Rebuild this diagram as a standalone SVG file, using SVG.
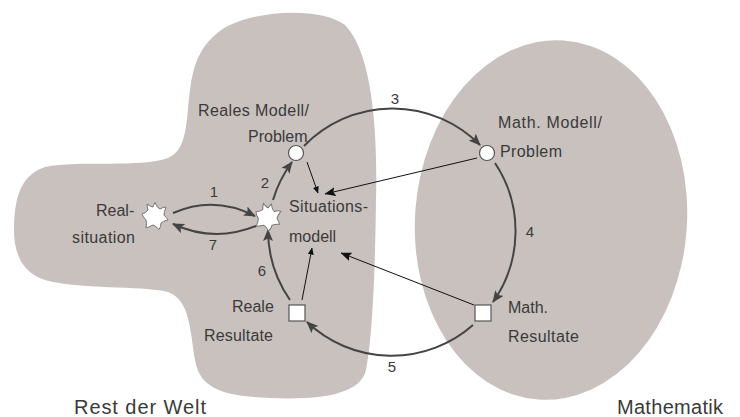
<svg xmlns="http://www.w3.org/2000/svg" width="740" height="417" viewBox="0 0 740 417">
<style>
.blob{fill:#c9c1be;stroke:none}
.lbl{font-family:"Liberation Sans",Arial,sans-serif;font-size:16px;fill:#3a3a3a}
.big{font-family:"Liberation Sans",Arial,sans-serif;font-size:20px;fill:#3a3a3a}
.num{font-family:"Liberation Sans",Arial,sans-serif;font-size:15px;fill:#3a3a3a;text-anchor:middle}
.thick{fill:none;stroke:#444;stroke-width:2;marker-end:url(#ah)}
.thin{fill:none;stroke:#111;stroke-width:1}
.star{fill:#fff;stroke:#777;stroke-width:1;stroke-linejoin:round}
.node{fill:#fff;stroke:#555;stroke-width:1.2}
</style>
<defs>
<marker id="ah" markerUnits="userSpaceOnUse" markerWidth="12" markerHeight="10" refX="11" refY="5" orient="auto">
<path d="M0,0 L12,5 L0,10 L2.5,5 z" fill="#444"/>
</marker>
<marker id="as" markerUnits="userSpaceOnUse" markerWidth="7" markerHeight="6" refX="6.5" refY="3" orient="auto">
<path d="M0,0 L7,3 L0,6 z" fill="#111"/>
</marker>
<marker id="am" markerUnits="userSpaceOnUse" markerWidth="11" markerHeight="9" refX="10.5" refY="4.5" orient="auto">
<path d="M0,0 L11,4.5 L0,9 L2,4.5 z" fill="#111"/>
</marker>
<path id="star" d="M0,-13.5 Q2,-8 5,-7 Q8,-9 11,-9 Q9,-4 9,-1 Q12,2 13,4 Q8,5 6,7 Q6,11 4,13.5 Q1,10 -2,9 Q-6,11 -9,12 Q-8,7 -9,4 Q-12,1 -13,-2 Q-9,-3 -7,-6 Q-8,-10 -8,-12 Q-4,-9 -2,-9 Q-1,-12 0,-13.5 Z"/>
</defs>

<g id="rest-der-welt">
<path class="blob" d="M215,35 C240,10 320,5 345,25 C370,50 378,120 376,200 C375,280 372,340 366,370 C360,395 320,400 270,398 C225,396 200,390 195,360 C190,330 190,300 168,292 C140,285 80,290 45,280 C20,272 14,250 14,230 C14,200 20,175 45,167 C80,160 140,168 168,158 C188,150 186,120 190,90 C193,65 200,48 215,35 Z"/>
<text class="big" x="74" y="414" textLength="132">Rest der Welt</text>
</g>

<g id="mathematik">
<ellipse class="blob" cx="551" cy="220" rx="136" ry="180" transform="rotate(4 551 220)"/>
<text class="big" x="617" y="414" textLength="106">Mathematik</text>
</g>

<g id="connectors">
<path class="thick" d="M173,213 Q214,195 255,216"/>
<path class="thick" d="M256,226 Q214,243 173,224"/>
<path class="thick" d="M273,200 A123,123 0 0 1 292,162"/>
<path class="thick" d="M304,146 A123,123 0 0 1 480,145"/>
<path class="thick" d="M495,163 A123,123 0 0 1 493,302"/>
<path class="thick" d="M473,325 A123,123 0 0 1 307,322"/>
<path class="thick" d="M290,300 A123,123 0 0 1 268,230"/>
<path class="thin" marker-end="url(#as)" d="M307,162 L318,193"/>
<path class="thin" marker-end="url(#am)" d="M477,158 L325,194"/>
<path class="thin" marker-end="url(#as)" d="M302,300 L312,248"/>
<path class="thin" marker-end="url(#am)" d="M474,305 L341,253"/>
<text class="num" x="214" y="197">1</text>
<text class="num" x="265" y="188">2</text>
<text class="num" x="395" y="104">3</text>
<text class="num" x="530" y="237">4</text>
<text class="num" x="392" y="372">5</text>
<text class="num" x="262" y="276">6</text>
<text class="num" x="213" y="250">7</text>
</g>

<g id="realsituation">
<use href="#star" class="star" transform="translate(155,216)"/>
<text class="lbl" x="96" y="216">Real-</text>
<text class="lbl" x="72" y="243" textLength="63">situation</text>
</g>

<g id="situationsmodell">
<use href="#star" class="star" transform="translate(268,217) rotate(15)"/>
<text class="lbl" x="289" y="212" textLength="79">Situations-</text>
<text class="lbl" x="289" y="242">modell</text>
</g>

<g id="reales-modell">
<circle class="node" cx="296" cy="153" r="7.5"/>
<text class="lbl" x="198" y="116" textLength="111">Reales Modell/</text>
<text class="lbl" x="248" y="142">Problem</text>
</g>

<g id="math-modell">
<circle class="node" cx="487" cy="153" r="7.5"/>
<text class="lbl" x="498" y="128" textLength="104">Math. Modell/</text>
<text class="lbl" x="500" y="157" textLength="62">Problem</text>
</g>

<g id="reale-resultate">
<rect class="node" x="289" y="305" width="16" height="16"/>
<text class="lbl" x="232" y="312">Reale</text>
<text class="lbl" x="204" y="341" textLength="69">Resultate</text>
</g>

<g id="math-resultate">
<rect class="node" x="475" y="305" width="16" height="16"/>
<text class="lbl" x="508" y="313">Math.</text>
<text class="lbl" x="508" y="342" textLength="71">Resultate</text>
</g>
</svg>
